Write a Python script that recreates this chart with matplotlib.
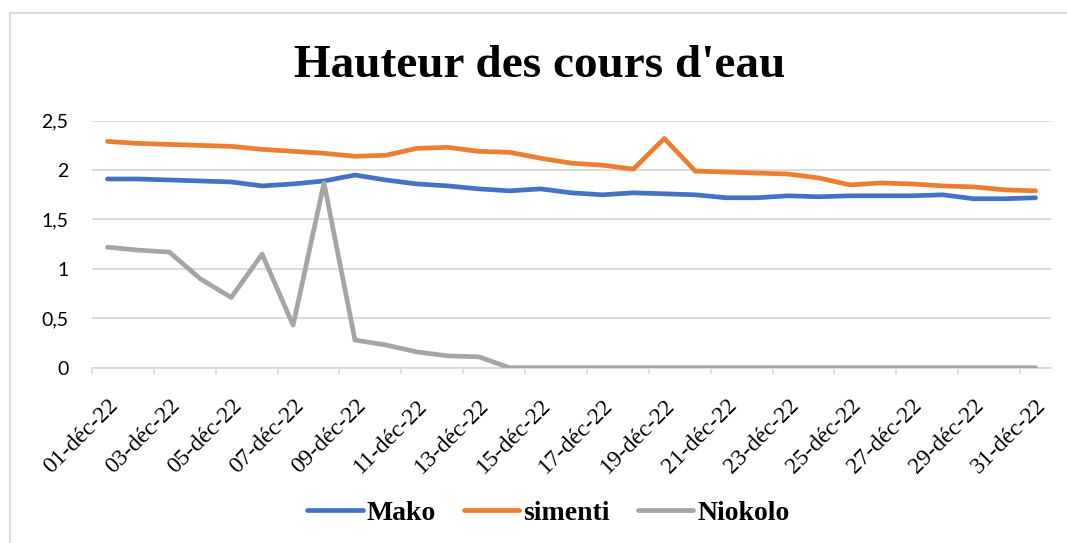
import numpy as np
import matplotlib
matplotlib.use("Agg")
from matplotlib import pyplot as plt
from matplotlib.lines import Line2D

# data (01 to 31 december 2022)
days = ["%02d-déc-22" % d for d in range(1, 32)]
mako = [1.91, 1.91, 1.90, 1.89, 1.88, 1.84, 1.86, 1.89, 1.95, 1.90, 1.86,
        1.84, 1.81, 1.79, 1.81, 1.77, 1.75, 1.77, 1.76, 1.75, 1.72, 1.72,
        1.74, 1.73, 1.74, 1.74, 1.74, 1.75, 1.71, 1.71, 1.72]
simenti = [2.29, 2.27, 2.26, 2.25, 2.24, 2.21, 2.19, 2.17, 2.14, 2.15, 2.22,
           2.23, 2.19, 2.18, 2.12, 2.07, 2.05, 2.01, 2.32, 1.99, 1.98, 1.97,
           1.96, 1.92, 1.85, 1.87, 1.86, 1.84, 1.83, 1.80, 1.79]
niokolo = [1.22, 1.19, 1.17, 0.90, 0.71, 1.15, 0.43, 1.87, 0.28, 0.23, 0.16,
           0.12, 0.11, 0, 0, 0, 0, 0, 0, 0, 0, 0,
           0, 0, 0, 0, 0, 0, 0, 0, 0]
yticks = [0, 0.5, 1, 1.5, 2, 2.5]
ytick_labels = ["0", "0,5", "1", "1,5", "2", "2,5"]

grid_col = "#d9d9d9"

fig = plt.figure(figsize=(10.67, 5.43), dpi=100)
ax = fig.add_axes([92 / 1067, 1 - 367.7 / 543, (1051 - 92) / 1067, (367.7 - 120.7) / 543])

x = np.arange(len(days))
ax.plot(x, mako, color="#4472C4", lw=3.4, solid_capstyle="round", solid_joinstyle="round", label="Mako", zorder=3)
ax.plot(x, simenti, color="#ED7D31", lw=3.4, solid_capstyle="round", solid_joinstyle="round", label="simenti", zorder=3)
ax.plot(x, niokolo, color="#A5A5A5", lw=3.4, solid_capstyle="round", solid_joinstyle="round", label="Niokolo", zorder=3)

ax.set_xlim(-0.5, len(days) - 0.5)
ax.set_ylim(0, 2.5)

# y axis
ax.set_yticks(yticks)
ax.set_yticklabels(ytick_labels)
ax.tick_params(axis="y", length=0, pad=17, labelsize=14, labelfontfamily="Lato")
ax.grid(axis="y", color=grid_col, lw=1.3)
ax.set_axisbelow(True)

# x axis: labels every 2 days, tick marks between categories
ax.set_xticks(x[::2])
ax.set_xticks(np.arange(-0.5, len(days) - 1, 2), minor=True)
ax.set_xticklabels(days[::2])
ax.tick_params(axis="x", which="major", length=0, pad=20, labelsize=17,
               labelfontfamily="Liberation Serif", labelrotation=45)
ax.tick_params(axis="x", which="minor", length=4, width=1.2, color=grid_col)
plt.setp(ax.get_xticklabels(), ha="right", va="top", rotation_mode="anchor")

for s in ["top", "right", "left"]:
    ax.spines[s].set_visible(False)
ax.spines["bottom"].set_color(grid_col)
ax.spines["bottom"].set_linewidth(1.3)

# title
fig.text(0.506, 1 - 76.7 / 543, "Hauteur des cours d'eau", ha="center", va="baseline",
         family="Liberation Serif", fontweight="bold", fontsize=34)

# legend
fig.legend(loc="center", bbox_to_anchor=(0.514, 1 - 513 / 543), ncol=3, frameon=False,
           prop={"family": "Liberation Serif", "weight": "bold", "size": 20},
           handlelength=2.0, handletextpad=0.15, columnspacing=1.0)

# chart area border
fig.add_artist(Line2D([10 / 1067, 10 / 1067], [0, 1 - 13 / 543], color=grid_col, lw=1.3))
fig.add_artist(Line2D([10 / 1067, 1], [1 - 13 / 543, 1 - 13 / 543], color=grid_col, lw=1.3))

fig.savefig("out.png", dpi=100, facecolor="white")
